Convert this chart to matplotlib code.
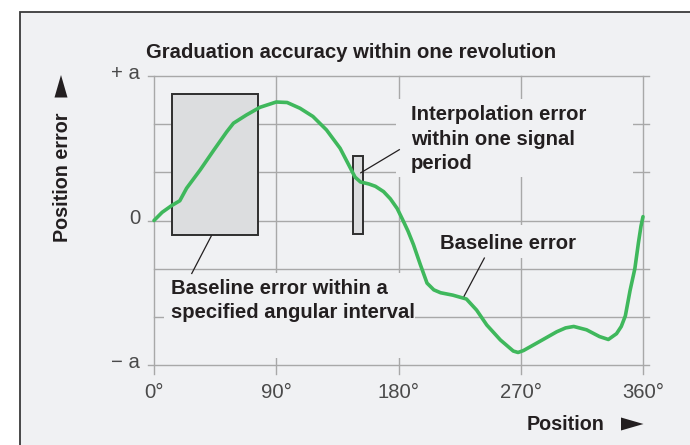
import matplotlib

matplotlib.use("Agg")
import matplotlib.pyplot as plt
from matplotlib.patches import Rectangle, Polygon

# curve: position (deg) -> position error (units of a/3)
pos = [0, 6, 13, 19, 24, 34, 44, 53.5, 58.5, 68, 78, 90, 98, 107.5, 117, 127,
       137, 144, 148, 152, 158, 163, 169, 174, 179, 183, 187, 191, 196, 201,
       206, 211, 220, 230, 237.5, 245, 255, 264.5, 268, 272, 284, 296.5, 303,
       309, 318.5, 328, 334.5, 340.5, 344, 347, 350.5, 354, 356.7, 358.5, 360]
err = [0.0, 0.17, 0.31, 0.41, 0.67, 1.05, 1.46, 1.84, 2.02, 2.19, 2.35, 2.46,
       2.45, 2.33, 2.16, 1.88, 1.50, 1.12, 0.90, 0.80, 0.76, 0.71, 0.60, 0.45,
       0.25, 0.02, -0.22, -0.50, -0.91, -1.30, -1.44, -1.50, -1.55, -1.63,
       -1.86, -2.17, -2.48, -2.71, -2.74, -2.70, -2.51, -2.31, -2.23, -2.20,
       -2.27, -2.41, -2.47, -2.35, -2.20, -1.98, -1.45, -1.00, -0.45, -0.12,
       0.08]

xticks = [0, 90, 180, 270, 360]
xlabels = ["0°", "90°", "180°", "270°", "360°"]
yticks = [3, 0, -3]
ylabels = ["+ a", "0", "− a"]
ygrid = [-3, -2, -1, 0, 1, 2, 3]

# boxes: (x0, x1, y0, y1)
interval_box = (13.0, 76.3, -0.30, 2.63)
period_box = (146.3, 154.1, -0.28, 1.33)

FONT = "Liberation Sans"
TXT = "#231f20"
BG = "#f0f1f3"
GRID = "#a8a8a8"
GREEN = "#3fb85c"
FS = 14.6

fig = plt.figure(figsize=(6.9, 4.45), dpi=100, facecolor="white")

# pixel overlay for frame, axis labels and arrows
ov = fig.add_axes([0, 0, 1, 1], zorder=0)
ov.set_xlim(0, 690)
ov.set_ylim(445, 0)
ov.axis("off")
ov.add_patch(Rectangle((20, 12), 700, 460, facecolor=BG, edgecolor="#3a3a3a", lw=1.3))
ov.add_patch(Polygon([(54.5, 97.5), (61, 75), (67.5, 97.5)], closed=True,
                     facecolor=TXT, edgecolor="none"))
ov.add_patch(Polygon([(621, 417.5), (643.5, 424), (621, 430.5)], closed=True,
                     facecolor=TXT, edgecolor="none"))
ov.text(62, 177, "Position error", rotation=90, ha="center", va="center",
        fontsize=14.2, fontweight="bold", family=FONT, color=TXT)
ov.text(605, 425, "Position", ha="right", va="center",
        fontsize=14.2, fontweight="bold", family=FONT, color=TXT)
ov.text(146, 53, "Graduation accuracy within one revolution", ha="left",
        va="center", fontsize=FS, fontweight="bold", family=FONT, color=TXT)

ax = fig.add_axes([154 / 690, 80 / 445, 489 / 690, 289 / 445], zorder=1)
ax.set_xlim(0, 360)
ax.set_ylim(-3, 3)
ax.axis("off")

# grid with overhanging ticks
for y in ygrid:
    x0 = -4.4 if y in yticks else 0
    ax.plot([x0, 364.5], [y, y], color=GRID, lw=1.0, clip_on=False, zorder=1)
for x in xticks:
    ax.plot([x, x], [-3.19, 3], color=GRID, lw=1.0, clip_on=False, zorder=1)

# background patches behind annotation texts (hide grid)
for (x0, x1, y0, y1) in [(178, 353, 0.90, 2.52), (7.4, 192, -2.85, -1.09),
                         (210, 309, -0.78, -0.09)]:
    ax.add_patch(Rectangle((x0, y0), x1 - x0, y1 - y0, facecolor=BG,
                           edgecolor="none", zorder=2))

for (x0, x1, y0, y1) in [interval_box, period_box]:
    ax.add_patch(Rectangle((x0, y0), x1 - x0, y1 - y0, facecolor="#dcdddf",
                           edgecolor="#2e2e2e", lw=1.4, zorder=3))

ax.plot(pos, err, color=GREEN, lw=2.6, solid_joinstyle="round",
        solid_capstyle="round", zorder=4, clip_on=False)

# leader lines
ax.plot([180.6, 152.2], [1.47, 0.99], color=TXT, lw=0.9, zorder=5)
ax.plot([42.2, 27.8], [-0.32, -1.10], color=TXT, lw=0.9, zorder=5)
ax.plot([243.2, 228.3], [-0.78, -1.57], color=TXT, lw=0.9, zorder=5)

ann = dict(fontsize=FS, fontweight="bold", family=FONT, color=TXT,
           ha="left", va="center", zorder=6, linespacing=1.38)
ax.text(189.0, 1.69, "Interpolation error\nwithin one signal\nperiod", **ann)
ax.text(210.6, -0.48, "Baseline error", **ann)
ax.text(12.5, -1.66, "Baseline error within a\nspecified angular interval", **ann)

for x, lab in zip(xticks, xlabels):
    ax.text(x, -3.57, lab, ha="center", va="center", fontsize=FS,
            family=FONT, color="#4a4a4a")
for y, lab in zip(yticks, ylabels):
    ax.text(-10.3, y + 0.05, lab, ha="right", va="center", fontsize=FS,
            family=FONT, color="#4a4a4a")

fig.savefig("out.png", dpi=100, facecolor="white")
